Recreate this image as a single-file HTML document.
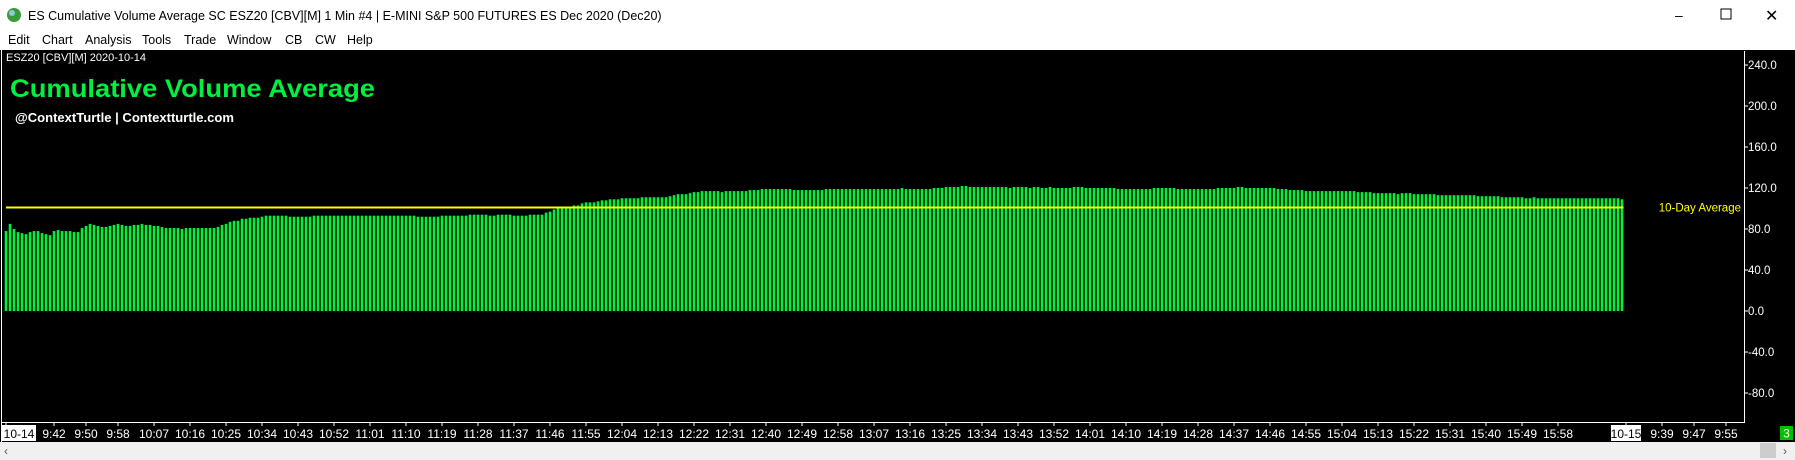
<!DOCTYPE html>
<html><head><meta charset="utf-8"><style>
body{margin:0;width:1795px;height:460px;overflow:hidden;background:#fff;font-family:"Liberation Sans",sans-serif}
svg{display:block}
</style></head><body>
<svg id="c" width="1795" height="460" xmlns="http://www.w3.org/2000/svg" font-family="Liberation Sans, sans-serif">
<rect x="0" y="0" width="1795" height="30" fill="#fff"/>
<circle cx="14" cy="15" r="7" fill="#3a9a3a"/>
<circle cx="12" cy="13" r="3" fill="#9fd6ff" opacity="0.8"/>
<text x="28" y="20" font-size="12.5" fill="#000">ES Cumulative Volume Average  SC ESZ20 [CBV][M]  1 Min   #4 | E-MINI S&amp;P 500 FUTURES ES Dec 2020 (Dec20)</text>
<text x="1675" y="20" font-size="14" fill="#000">–</text>
<rect x="1721" y="9" width="10" height="10" fill="none" stroke="#000"/>
<text x="1765" y="21" font-size="16" fill="#000">✕</text>
<g font-size="12.5" fill="#000">
<text x="8" y="44">Edit</text>
<text x="42" y="44">Chart</text>
<text x="85" y="44">Analysis</text>
<text x="142" y="44">Tools</text>
<text x="184" y="44">Trade</text>
<text x="227" y="44">Window</text>
<text x="285" y="44">CB</text>
<text x="315" y="44">CW</text>
<text x="347" y="44">Help</text>
</g>
<rect x="0" y="50" width="1795" height="392" fill="#000"/>
<line x1="1.5" y1="50" x2="1.5" y2="442" stroke="#fff"/>
<line x1="1744.5" y1="51" x2="1744.5" y2="422" stroke="#fff"/>
<line x1="2" y1="422.5" x2="1745" y2="422.5" stroke="#fff"/>
<text x="6" y="61" font-size="11" fill="#fff">ESZ20 [CBV][M] 2020-10-14</text>
<text x="10" y="97" font-size="25" font-weight="bold" fill="#00f040" textLength="365" lengthAdjust="spacingAndGlyphs">Cumulative Volume Average</text>
<text x="15" y="122" font-size="12.5" font-weight="bold" fill="#fff" textLength="219" lengthAdjust="spacingAndGlyphs">@ContextTurtle | Contextturtle.com</text>
<g id="bars"></g>
<g id="yax"></g>
<g id="xax"></g>
<rect x="0" y="442" width="1795" height="18" fill="#f0f0f0"/>
<text x="4" y="455" font-size="12" fill="#555">‹</text>
<rect x="1760" y="443" width="16" height="15" fill="#cdcdcd"/>
<text x="1783" y="455" font-size="12" fill="#555">›</text>
<rect x="1780" y="426" width="13" height="14" fill="#00c000"/>
<text x="1786.5" y="437.5" font-size="12" fill="#fff" text-anchor="middle">3</text>
</svg>
<script>
const values = [78,85,80,77,76,75,77,78,78,76,75,74,78,79,78,78,78,77,77,
81,83,85,84,83,82,82,83,84,85,84,83,83,84,84,85,84,84,83,83,82,81,81,81,81,80,81,81,81,81,81,81,81,81,82,
84,85,87,88,88,90,90,91,91,91,92,93,93,93,93,93,93,
92,92,92,92,92,92,93,93,93,93,93,93,93,93,93,93,93,93,93,93,93,93,93,93,93,93,93,93,93,93,93,93,92,92,92,92,92,92,93,93,93,93,93,93,93,94,94,94,94,94,
93,93,94,94,94,94,93,93,93,93,94,94,94,
94,96,97,99,100,100,100,100,103,103,105,106,106,106,107,108,108,109,109,109,
110,110,110,110,110,111,111,111,111,111,111,111,112,113,114,114,114,115,116,116,
117,117,117,117,117,116,117,117,117,117,117,117,118,118,118,119,119,119,119,119,
119,119,119,118,118,118,118,118,118,118,118,119,119,119,119,119,119,119,119,119,
119,119,119,119,119,119,119,119,119,119,120,119,119,119,119,119,119,119,120,120,
120,121,121,121,121,122,122,121,121,121,121,121,121,121,121,121,121,120,121,121,
121,121,120,121,121,120,120,121,120,120,120,120,120,121,121,
121,120,120,120,120,120,120,120,120,119,119,119,119,119,119,119,119,119,120,120,
120,120,120,120,119,119,119,119,119,119,119,119,119,119,120,120,120,120,120,121,
121,120,120,120,120,120,120,120,120,119,119,119,118,118,118,118,117,117,117,117,
117,117,117,117,117,117,117,117,117,116,116,116,116,115,115,115,115,115,115,114,
115,115,115,114,114,114,114,114,114,113,113,113,113,113,113,113,113,113,113,112,
112,112,112,112,112,111,111,111,111,111,111,110,110,111,110,110,110,110,110,110,
110,110,110,110,110,110,110,110,110,110,110,110,110,110,110,109];
const tenDayAverage = [101];
const yTicks = [240,200,160,120,80,40,0,-40,-80];
const xLabels = ["9:42","9:50","9:58","10:07","10:16","10:25","10:34","10:43","10:52","11:01","11:10","11:19","11:28","11:37","11:46","11:55","12:04","12:13","12:22","12:31","12:40","12:49","12:58","13:07","13:16","13:25","13:34","13:43","13:52","14:01","14:10","14:19","14:28","14:37","14:46","14:55","15:04","15:13","15:22","15:31","15:40","15:49","15:58"];
const nextDayLabels = ["9:39","9:47","9:55"];
const NS="http://www.w3.org/2000/svg";
function X(i){return 6+4*i;}
function Y(v){return 311-v*1.025;}
function minIdx(t){const [h,m]=t.split(":").map(Number);return h*60+m-570;}
function mk(tag,attrs,parent){const e=document.createElementNS(NS,tag);for(const k in attrs)e.setAttribute(k,attrs[k]);parent.appendChild(e);return e;}
const bars=document.getElementById('bars'),yax=document.getElementById('yax'),xax=document.getElementById('xax');
values.forEach((v,i)=>{
  const r=mk('rect',{x:X(i)-1.3,y:Math.min(Y(v),Y(0)),width:2.6,height:Math.abs(Y(0)-Y(v)),fill:'#00f040'},bars);
  
  
});
const avg=mk('line',{x1:X(0),x2:X(values.length-1)+1.5,y1:Y(tenDayAverage[0]),y2:Y(tenDayAverage[0]),stroke:'#ffff00','stroke-width':2},bars);


const al=mk('text',{x:1741,y:Y(tenDayAverage[0])+4,'font-size':11.5,fill:'#ffff00','text-anchor':'end'},bars);
al.textContent='10-Day Average';


yTicks.forEach(t=>{
  mk('line',{x1:1745,x2:1748,y1:Y(t),y2:Y(t),stroke:'#fff'},yax);
  const tx=mk('text',{x:1748,y:Y(t)+4,'font-size':11.5,fill:'#fff'},yax);
  tx.textContent=t.toFixed(1);
  
  
});
function xl(i,txt,boxed){
  const x=X(i);
  mk('line',{x1:x,x2:x,y1:423,y2:426,stroke:'#fff'},xax);
  if(boxed){const b=mk('rect',{x:x-(i===0?4:15),y:425,width:i===0?34:30,height:16,fill:'#fff'},xax);}
  const t=mk('text',{x:i===0?x+13:x,y:438,'font-size':12,fill:boxed?'#000':'#fff','text-anchor':'middle'},xax);
  t.textContent=txt;
  
  
}
xl(0,'10-14',true);
xLabels.forEach(l=>xl(minIdx(l),l,false));
xl(values.length,'10-15',true);
nextDayLabels.forEach(l=>xl(values.length+minIdx(l),l,false));
</script>
</body></html>
